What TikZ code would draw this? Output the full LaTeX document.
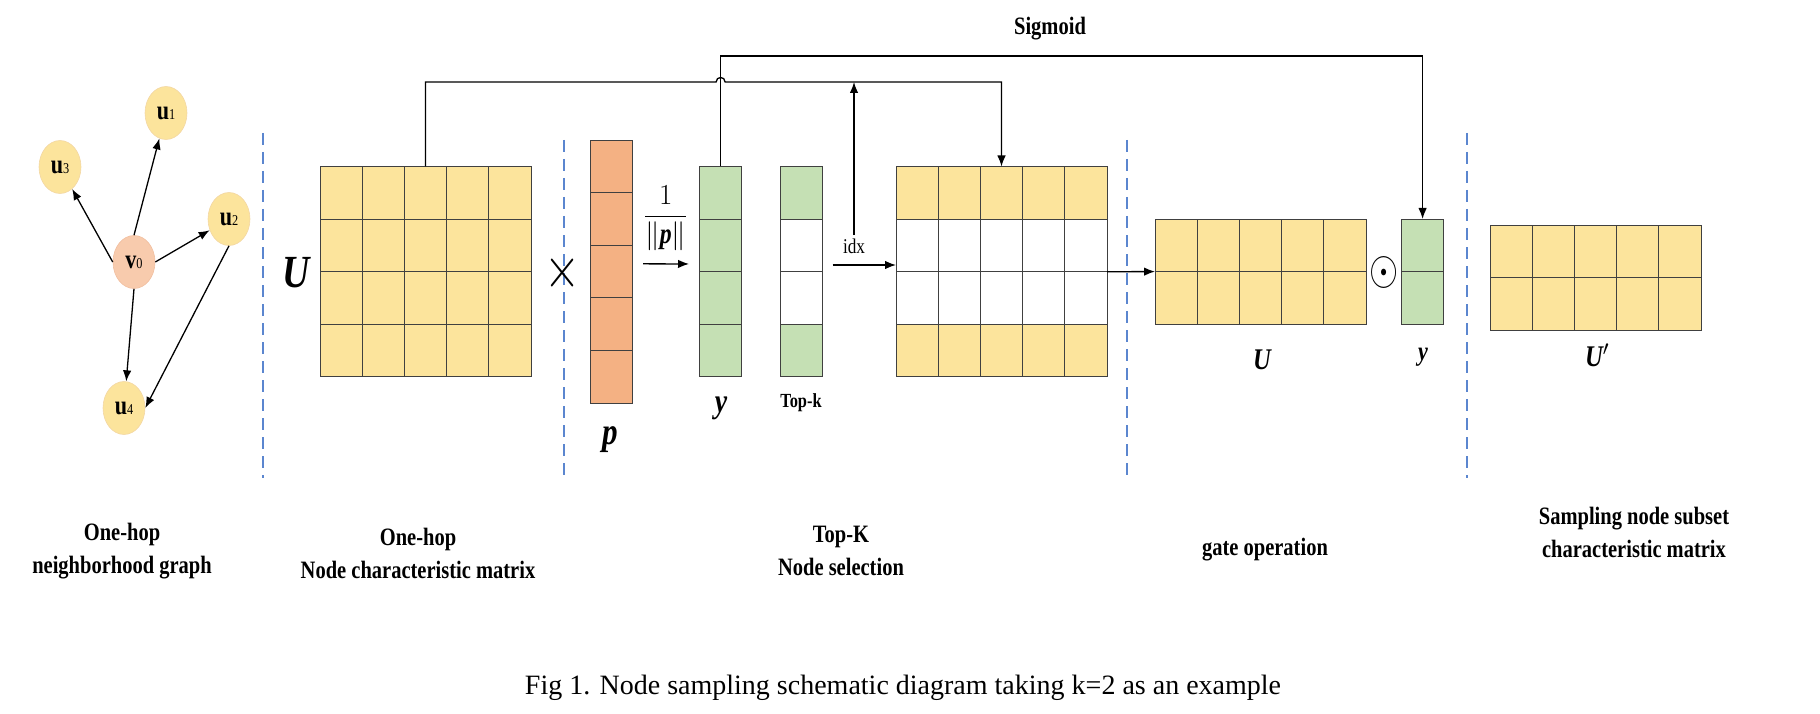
\RequirePackage{fix-cm}
\documentclass[tikz,border=0pt]{standalone}
\usepackage{amsmath}
\usepackage{graphicx}
\usepackage{fontspec}
\setmainfont{Liberation Serif}[FakeStretch=0.82]
\newfontfamily\capfont{Liberation Serif}
\usepackage{tikz}
\usetikzlibrary{arrows.meta}
\usetikzlibrary{shapes.geometric}
\usetikzlibrary{calc}

\definecolor{ylw}{HTML}{FCE49C}
\definecolor{ylwedge}{HTML}{F3D7A4}
\definecolor{grn}{HTML}{C5E0B4}
\definecolor{org}{HTML}{F4B183}
\definecolor{vclr}{HTML}{F8CBAD}
\definecolor{vedge}{HTML}{F1BFA0}
\definecolor{sepblue}{HTML}{5B86CF}

\tikzset{>={Latex[length=11pt,width=8.5pt]}}
\tikzset{
  cell/.style={draw=black!75, line width=0.9pt, minimum width=42.2pt,
    minimum height=52.6pt, inner sep=0pt, outer sep=0pt},
  gnode/.style={ellipse, fill=ylw, draw=ylwedge, line width=0.6pt,
    minimum width=42pt, minimum height=53pt, inner sep=0pt,
    font=\bfseries\fontsize{27}{27}\selectfont},
  sep/.style={draw=sepblue, line width=1.4pt, dash pattern=on 12pt off 7pt},
  lbl/.style={font=\bfseries\fontsize{25}{33}\selectfont, align=center},
  ital/.style={font=\bfseries\itshape\fontsize{#1}{#1}\selectfont},
  conn/.style={->, line width=1.3pt},
}

% small index digit inside the graph nodes
\newcommand{\gsub}[1]{{\mdseries\fontsize{15}{15}\selectfont #1}}
% name, left, top, columns, colour of each row
\newcommand{\cellgrid}[5]{%
  \foreach \fc [count=\r] in {#5}
    \foreach \c in {1,...,#4}
      \node[cell, fill=\fc] (#1-\r-\c) at ({#2+(\c-0.5)*42.2}, {#3+(\r-0.5)*52.6}) {};
}

\begin{document}
\begin{tikzpicture}[x=1pt, y=-1pt]
    \useasboundingbox (0,0) rectangle (1820,714);

    % one-hop graph
    \node[gnode] (u1) at (166,113) {u\gsub{1}};
    \node[gnode] (u2) at (229,219) {u\gsub{2}};
    \node[gnode] (u3) at (60,167) {u\gsub{3}};
    \node[gnode] (u4) at (124,408) {u\gsub{4}};
    \node[gnode, fill=vclr, draw=vedge] (v0) at (134,262) {v\gsub{0}};

    \draw[conn] (v0.north) -- (u1);
    \draw[conn] (v0.east) -- (u2);
    \draw[conn] (v0.west) -- (u3);
    \draw[conn] (v0.south) -- (u4);
    \draw[conn] (u2.south) -- (u4.east);

    % separators
    \draw[sep] (263,133) -- (263,478);
    \draw[sep] (564,140) -- (564,482);
    \draw[sep] (1127,140) -- (1127,482);
    \draw[sep] (1467,133) -- (1467,478);

    % matrices and vectors
    \cellgrid{U}{320}{166.5}{5}{ylw,ylw,ylw,ylw}
    \cellgrid{p}{590}{140}{1}{org,org,org,org,org}
    \cellgrid{Y}{699.5}{166.5}{1}{grn,grn,grn,grn}
    \cellgrid{T}{780}{166.5}{1}{grn,white,white,grn}
    \cellgrid{S}{896}{166.5}{5}{ylw,white,white,ylw}
    \cellgrid{gU}{1155}{219}{5}{ylw,ylw}
    \cellgrid{gy}{1401.5}{219}{1}{grn,grn}
    \cellgrid{Up}{1490}{225}{5}{ylw,ylw}

    \node[ital=46] (Ulbl) at (296,273) {U};
    \node (times) at (563,273) {\scalebox{0.8}[1]{\fontsize{58}{58}\selectfont$\times$}};
    \node[ital=38] (plbl) at (610,440) {p};
    \node[ital=34] (ylbl) at (721,408) {y};
    \node[font=\bfseries\fontsize{20}{20}\selectfont] (tklbl) at (801,403) {Top-k};
    \node (odot) at (1384,272) {\scalebox{0.78}[1]{\fontsize{48}{48}\selectfont$\odot$}};
    \node[ital=30] (gUlbl) at (1262,360) {U};
    \node[ital=27] (gylbl) at (1423,357) {y};
    \node[ital=30] (Uplbl) at (1597,355) {U$^{\prime}$};

    % connectors
    \coordinate (laneA) at (0,82);
    \coordinate (laneB) at (0,56);
    \coordinate (hop) at (Y-1-1.north |- laneA);
    \draw[conn] (U-1-3.north) -- (U-1-3.north |- laneA) -- ([xshift=-4.5pt]hop)
        .. controls +(0,-6) and +(0,-6) .. ([xshift=4.5pt]hop)
        -- (S-1-3.north |- laneA) -- (S-1-3.north);
    \draw[conn] (Y-1-1.north) -- (Y-1-1.north |- laneB) -- (gy-1-1.north |- laneB) -- (gy-1-1.north);
    \node[lbl] (sig) at (1050,29) {Sigmoid};

    \draw[conn, shorten <=11pt, shorten >=10.5pt] ([yshift=7.7pt]p-3-1.east) -- ([yshift=7.7pt]Y-2-1.south west)
        node[midway, above=9pt, font=\fontsize{29}{29}\selectfont] (frac) {$\dfrac{1}{\|\textbf{\textit{p}}\|}$};
    \draw[conn, shorten <=10.5pt] ([yshift=6.7pt]T-2-1.south east) -- ([yshift=6.7pt]S-2-1.south west);
    \node[font=\fontsize{21}{21}\selectfont] (idx) at (854,246) {idx};
    \draw[conn] (idx.north) -- (idx.north |- laneA);
    \draw[conn] (S-2-5.south east) -- (gU-1-1.south west);

    % captions of the stages
    \node[lbl] (cap1) at (122,551) {One-hop\\neighborhood graph};
    \node[lbl] (cap2) at (418,553) {One-hop\\Node characteristic matrix};
    \node[lbl] (cap3) at (841,551) {Top-K\\Node selection};
    \node[lbl] (cap4) at (1265,550) {gate operation};
    \node[lbl] (cap5) at (1634,532) {Sampling node subset\\characteristic matrix};

    \node[font=\capfont\fontsize{28}{28}\selectfont] (fig) at (903,688) {Fig 1. Node sampling schematic diagram taking k=2 as an example};
\end{tikzpicture}
\end{document}
